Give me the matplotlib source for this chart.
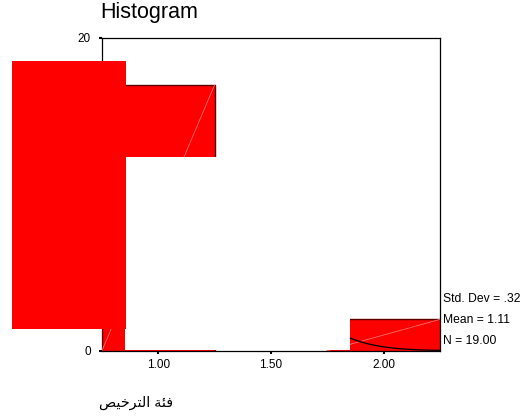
import numpy as np
import matplotlib
matplotlib.use("Agg")
import matplotlib.pyplot as plt
from matplotlib.patches import Rectangle

plt.rcParams['font.family'] = ['Liberation Sans', 'DejaVu Sans']

# data
bin_centers = [1.0, 2.0]
counts = [17, 2]
bin_width = 0.5
x_ticks = [1.0, 1.5, 2.0]
x_tick_labels = ["1.00", "1.50", "2.00"]
y_ticks = [0, 20]
std_dev = 0.32
mean = 1.11
n = 19
# Arabic label in visual (shaped, left-to-right) order: "فئة الترخيص"
x_label = "\uFEBA\uFEF4\uFEA7\uFEAE\uFE98\uFEDF\uFE8D \uFE94\uFE8C\uFED3"

RED = "#ff0000"

fig = plt.figure(figsize=(5.23, 4.16), dpi=100)
ax = fig.add_axes([0.195, 0.157, 0.646, 0.752])

ax.bar(bin_centers, counts, width=bin_width, color=RED,
       edgecolor="#5a0000", linewidth=1.0, zorder=3)

# faint diagonal through each bar (rendering artefact in the original)
for c, h in zip(bin_centers, counts):
    ax.plot([c - bin_width / 2, c + bin_width / 2], [0, h],
            color="#ff7070", linewidth=0.6, zorder=3.5)

# white areas where the original bars were not repainted
ax.add_patch(Rectangle((0.852, 0.06), 1.26 - 0.852, 12.4 - 0.06,
                       facecolor="white", edgecolor="none", zorder=4))
ax.add_patch(Rectangle((1.74, 0.06), 1.853 - 1.74, 2.2,
                       facecolor="white", edgecolor="none", zorder=4))

# normal curve, only the visible tail
xs = np.linspace(1.853, 2.25, 60)
ys = n * bin_width * np.exp(-0.5 * ((xs - mean) / std_dev) ** 2) / (std_dev * np.sqrt(2 * np.pi))
ax.plot(xs, ys, color="black", linewidth=0.9, zorder=5)

# large red block spilling over the left axis
ax.add_patch(Rectangle((0.35, 1.41), 0.855 - 0.35, 18.53 - 1.41,
                       facecolor=RED, edgecolor="none", zorder=10, clip_on=False))

ax.set_xlim(0.75, 2.25)
ax.set_ylim(0, 20)
ax.set_xticks(x_ticks)
ax.set_xticklabels(x_tick_labels)
ax.set_yticks(y_ticks)
ax.tick_params(length=2, width=1.5, labelsize=8.5, color="black")
ax.tick_params(axis='y', pad=6)
ax.tick_params(axis='x', pad=4)
for s in ax.spines.values():
    s.set_linewidth(0.9)
    s.set_color("black")

fig.text(0.191, 0.996, "Histogram", fontsize=15.5, ha="left", va="top")

fig.text(0.847, 0.281, "Std. Dev = .32", fontsize=8.7, ha="left", va="center")
fig.text(0.847, 0.231, "Mean = 1.11", fontsize=8.7, ha="left", va="center")
fig.text(0.847, 0.180, "N = 19.00", fontsize=8.7, ha="left", va="center")

fig.text(0.189, 0.031, x_label, fontsize=10.3, ha="left", va="center")

fig.savefig("out.png", dpi=100)
